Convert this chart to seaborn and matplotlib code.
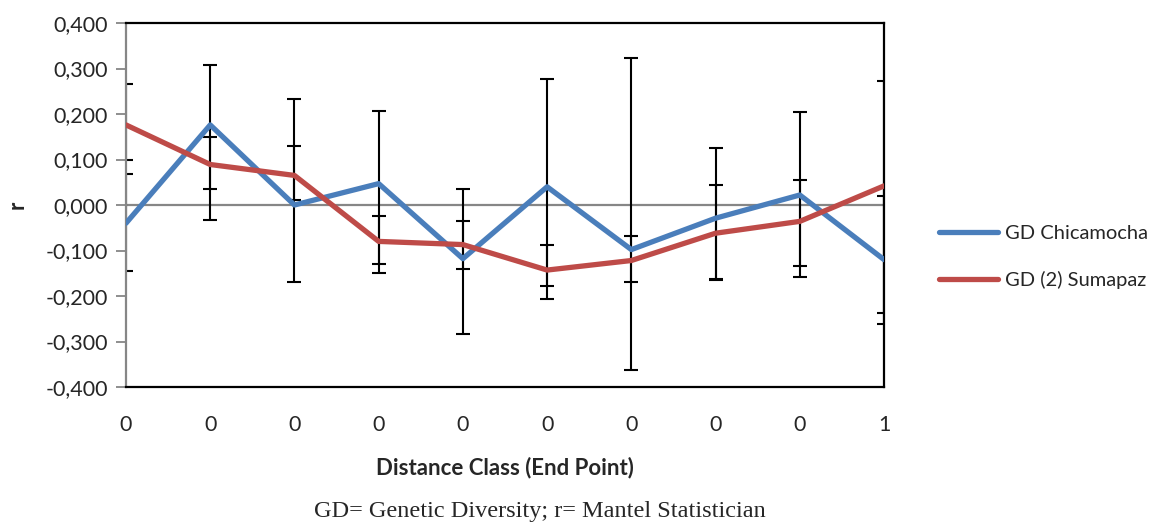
import numpy as np
import pandas as pd
import matplotlib
matplotlib.use("Agg")
import matplotlib.pyplot as plt
import seaborn as sns
from matplotlib.ticker import FuncFormatter

# distance classes (end point) as printed on the axis
classes = ["0", "0", "0", "0", "0", "0", "0", "0", "0", "1"]

chicamocha = [-0.040, 0.176, 0.000, 0.047, -0.118, 0.040, -0.098, -0.029, 0.022, -0.120]
chica_hi = [0.069, 0.307, 0.234, 0.207, 0.036, 0.278, 0.323, 0.125, 0.205, 0.020]
chica_lo = [-0.145, 0.036, -0.169, -0.149, -0.283, -0.207, -0.169, -0.163, -0.158, -0.262]

sumapaz = [0.176, 0.089, 0.065, -0.080, -0.087, -0.143, -0.122, -0.062, -0.036, 0.042]
suma_hi = [0.265, 0.149, 0.129, -0.024, -0.036, -0.089, -0.069, 0.045, 0.056, 0.272]
suma_lo = [0.100, -0.033, 0.010, -0.129, -0.140, -0.178, -0.363, -0.165, -0.134, -0.238]

names = ["GD Chicamocha", "GD (2) Sumapaz"]
colors = ["#4A7EBB", "#BE4B48"]

sns.set_style("white")
plt.rcParams["font.family"] = ["Lato", "DejaVu Sans"]

pos = np.arange(len(classes))
df = pd.DataFrame({
    "pos": np.concatenate([pos, pos]),
    "r": chicamocha + sumapaz,
    "serie": [names[0]] * len(pos) + [names[1]] * len(pos),
})

fig = plt.figure(figsize=(11.56, 5.23), dpi=100)
ax = fig.add_axes([126 / 1156, 1 - 387 / 523, (884 - 126) / 1156, (387 - 23) / 523])

ax.axhline(0, color="#868686", lw=1.6, zorder=1)

# error bars (black, same for both series)
for vals, hi, lo in [(chicamocha, chica_hi, chica_lo), (sumapaz, suma_hi, suma_lo)]:
    v = np.array(vals)
    yerr = [v - np.array(lo), np.array(hi) - v]
    ax.errorbar(pos, v, yerr=yerr, fmt="none", ecolor="black", elinewidth=1.5,
                capsize=5, capthick=1.5, zorder=2)

sns.lineplot(data=df, x="pos", y="r", hue="serie", palette=colors, lw=3.8,
             ax=ax, legend=False, zorder=3)

ax.set_xlim(0, 9)
ax.set_ylim(-0.4, 0.4)
ax.set_xticks(pos)
ax.set_xticklabels(classes, fontsize=15.5)
ax.set_yticks(np.arange(-0.4, 0.41, 0.1))
ax.yaxis.set_major_formatter(FuncFormatter(lambda y, _: f"{y:.3f}".replace(".", ",").replace("-0,000", "0,000")))
ax.tick_params(axis="y", labelsize=15.5, length=7, width=1.3, color="#868686", direction="out", pad=6, left=True)
ax.tick_params(axis="x", length=0, pad=20)

for s in ["top", "right", "bottom"]:
    ax.spines[s].set_color("black")
    ax.spines[s].set_linewidth(1.6)
ax.spines["left"].set_color("#868686")
ax.spines["left"].set_linewidth(1.6)

ax.set_xlabel("Distance Class (End Point)", fontsize=16, fontweight="bold", labelpad=16)
ax.set_ylabel("r", fontsize=16, fontweight="bold", labelpad=13)

handles = [plt.Line2D([], [], color=c, lw=3.8) for c in colors]
fig.legend(handles, names, loc="center left", bbox_to_anchor=(921 / 1156, 1 - 257 / 523),
           frameon=False, fontsize=14.5, handlelength=2.9, labelspacing=1.45, handletextpad=0.35)

fig.text(540 / 1156, 1 - 511 / 523, "GD= Genetic Diversity; r= Mantel Statistician",
         ha="center", va="center", fontsize=17.5, family=["Liberation Serif", "DejaVu Serif"])

fig.savefig("out.png", dpi=100)
